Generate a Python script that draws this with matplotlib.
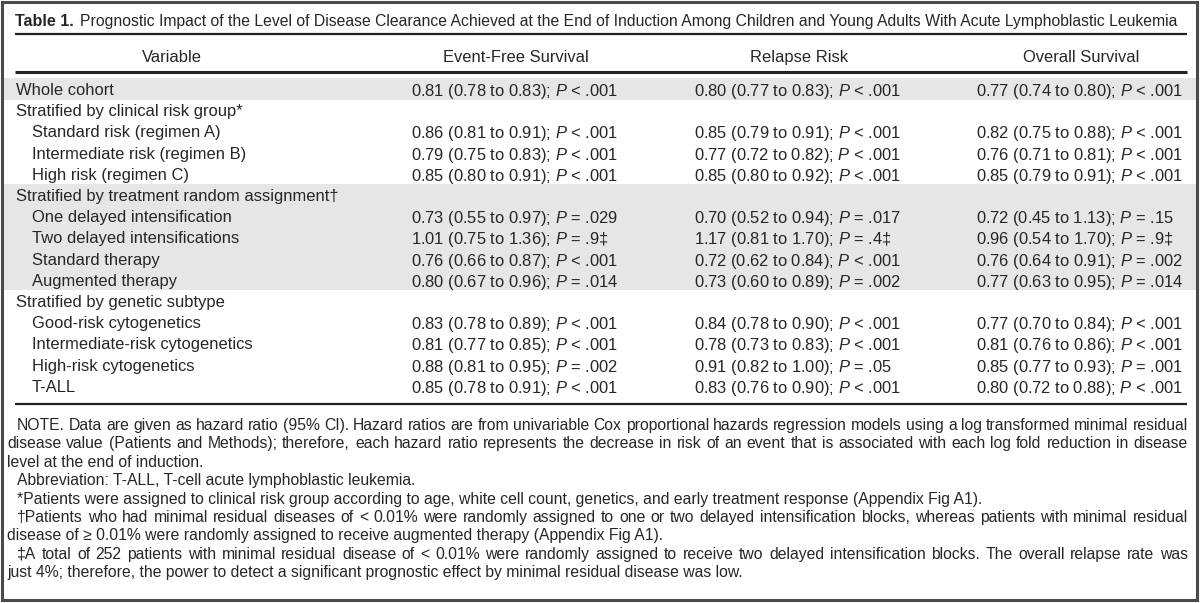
import matplotlib
matplotlib.use("Agg")
import matplotlib.pyplot as plt
from matplotlib.patches import Rectangle

plt.rcParams['font.family'] = ['Liberation Sans', 'DejaVu Sans']
plt.rcParams['mathtext.fontset'] = 'custom'
plt.rcParams['mathtext.rm'] = 'Liberation Sans'
plt.rcParams['mathtext.it'] = 'Liberation Sans:italic'
plt.rcParams['mathtext.bf'] = 'Liberation Sans:bold'

# ---- table content ----
title_bold = "Table 1."
title_rest = ("Prognostic Impact of the Level of Disease Clearance Achieved at the End of "
              "Induction Among Children and Young Adults With Acute Lymphoblastic Leukemia")
columns = ["Variable", "Event-Free Survival", "Relapse Risk", "Overall Survival"]

variables = [
    "Whole cohort",
    "Stratified by clinical risk group*",
    "Standard risk (regimen A)",
    "Intermediate risk (regimen B)",
    "High risk (regimen C)",
    "Stratified by treatment random assignment\u2020",
    "One delayed intensification",
    "Two delayed intensifications",
    "Standard therapy",
    "Augmented therapy",
    "Stratified by genetic subtype",
    "Good-risk cytogenetics",
    "Intermediate-risk cytogenetics",
    "High-risk cytogenetics",
    "T-ALL",
]
indent = [0, 0, 1, 1, 1, 0, 1, 1, 1, 1, 0, 1, 1, 1, 1]
shaded = [1, 0, 0, 0, 0, 1, 1, 1, 1, 1, 0, 0, 0, 0, 0]

# (hazard ratio, CI low, CI high, P)
efs = [
    (0.81, 0.78, 0.83, "< .001"), None,
    (0.86, 0.81, 0.91, "< .001"), (0.79, 0.75, 0.83, "< .001"), (0.85, 0.80, 0.91, "< .001"),
    None,
    (0.73, 0.55, 0.97, "= .029"), (1.01, 0.75, 1.36, "= .9\u2021"),
    (0.76, 0.66, 0.87, "< .001"), (0.80, 0.67, 0.96, "= .014"),
    None,
    (0.83, 0.78, 0.89, "< .001"), (0.81, 0.77, 0.85, "< .001"),
    (0.88, 0.81, 0.95, "= .002"), (0.85, 0.78, 0.91, "< .001"),
]
relapse = [
    (0.80, 0.77, 0.83, "< .001"), None,
    (0.85, 0.79, 0.91, "< .001"), (0.77, 0.72, 0.82, "< .001"), (0.85, 0.80, 0.92, "< .001"),
    None,
    (0.70, 0.52, 0.94, "= .017"), (1.17, 0.81, 1.70, "= .4\u2021"),
    (0.72, 0.62, 0.84, "< .001"), (0.73, 0.60, 0.89, "= .002"),
    None,
    (0.84, 0.78, 0.90, "< .001"), (0.78, 0.73, 0.83, "< .001"),
    (0.91, 0.82, 1.00, "= .05"), (0.83, 0.76, 0.90, "< .001"),
]
overall = [
    (0.77, 0.74, 0.80, "< .001"), None,
    (0.82, 0.75, 0.88, "< .001"), (0.76, 0.71, 0.81, "< .001"), (0.85, 0.79, 0.91, "< .001"),
    None,
    (0.72, 0.45, 1.13, "= .15"), (0.96, 0.54, 1.70, "= .9\u2021"),
    (0.76, 0.64, 0.91, "= .002"), (0.77, 0.63, 0.95, "= .014"),
    None,
    (0.77, 0.70, 0.84, "< .001"), (0.81, 0.76, 0.86, "< .001"),
    (0.85, 0.77, 0.93, "= .001"), (0.80, 0.72, 0.88, "< .001"),
]

# footnote lines, (text, indented first line, justified)
notes = [
    ("NOTE. Data are given as hazard ratio (95% CI). Hazard ratios are from univariable Cox "
     "proportional hazards regression models using a log transformed minimal residual", True, True),
    ("disease value (Patients and Methods); therefore, each hazard ratio represents the decrease "
     "in risk of an event that is associated with each log fold reduction in disease", False, True),
    ("level at the end of induction.", False, False),
    ("Abbreviation: T-ALL, T-cell acute lymphoblastic leukemia.", True, False),
    ("*Patients were assigned to clinical risk group according to age, white cell count, genetics, "
     "and early treatment response (Appendix Fig A1).", True, False),
    ("\u2020Patients who had minimal residual diseases of < 0.01% were randomly assigned to one or two "
     "delayed intensification blocks, whereas patients with minimal residual", True, True),
    ("disease of \u2265 0.01% were randomly assigned to receive augmented therapy (Appendix Fig A1).",
     False, False),
    ("\u2021A total of 252 patients with minimal residual disease of < 0.01% were randomly assigned to "
     "receive two delayed intensification blocks. The overall relapse rate was", True, True),
    ("just 4%; therefore, the power to detect a significant prognostic effect by minimal residual "
     "disease was low.", False, False),
]

# ---- layout ----
W, H = 1200, 603
TXT = '#262626'
SHADE = '#e6e6e6'
FS = 11.9
TFS = 11.3
NFS = 11.3

fig = plt.figure(figsize=(W / 100, H / 100), dpi=100)
ax = fig.add_axes([0, 0, 1, 1])
ax.set_xlim(0, W)
ax.set_ylim(H, 0)
ax.axis('off')
renderer = fig.canvas.get_renderer()

left, right = 15, 1187
col_x = [411, 694, 976]
col_w = 210
title_y = 20
header_y = 56
row0, step = 89, 21.2
notes_y0, nstep = 424, 18.4
VA = 'center_baseline'

# frame
ax.add_patch(Rectangle((1.5, 1.5), W - 4.5, H - 4.5, fill=False, ec='#4a4a4a', lw=2.2))

# title
tb = ax.text(left, title_y, title_bold, fontsize=11.6, fontweight='bold', color=TXT,
             va=VA, ha='left')
tw = tb.get_window_extent(renderer).width
ax.text(left + tw + 6, title_y, title_rest, fontsize=TFS, color=TXT, va=VA, ha='left')
ax.plot([left, right], [34, 34], color='#222222', lw=1.6, solid_capstyle='butt')

# header
ax.text(172, header_y, columns[0], fontsize=FS, color=TXT, va=VA, ha='center')
for cx, name in zip(col_x, columns[1:]):
    ax.text(cx + col_w / 2, header_y, name, fontsize=FS, color=TXT, va=VA, ha='center')
ax.plot([left, right], [72, 72], color='#222222', lw=2.2, solid_capstyle='butt')

# body rows
for i, name in enumerate(variables):
    y = row0 + i * step
    if shaded[i]:
        ax.add_patch(Rectangle((2.5, y - step / 2), W - 6.5, step, color=SHADE, lw=0, zorder=0))
    ax.text(left + 1 + 16 * indent[i], y, name, fontsize=FS, color=TXT, va=VA, ha='left')
    for cx, col in zip(col_x, (efs, relapse, overall)):
        v = col[i]
        if v is None:
            continue
        hr, lo, hi, p = v
        s = f"{hr:.2f} ({lo:.2f} to {hi:.2f}); $P$ {p}"
        ax.text(cx, y, s, fontsize=FS, color=TXT, va=VA, ha='left')

bottom_rule = row0 + (len(variables) - 1) * step + 18
ax.plot([left, right], [bottom_rule, bottom_rule], color='#222222', lw=1.6, solid_capstyle='butt')

# footnotes (wrapped lines are justified to the right edge)
for k, (line, ind, just) in enumerate(notes):
    y = notes_y0 + k * nstep
    x0 = 17 if ind else 7
    words = line.split(' ')
    if just:
        tx = [ax.text(0, y, w, fontsize=NFS, color=TXT, va=VA, ha='left') for w in words]
        widths = [t.get_window_extent(renderer).width for t in tx]
        gap = (1188 - x0 - sum(widths)) / (len(words) - 1)
        if gap > 2.5:
            x = x0
            for t, wd in zip(tx, widths):
                t.set_x(x)
                x += wd + gap
            continue
        for t in tx:
            t.remove()
    ax.text(x0, y, line, fontsize=NFS, color=TXT, va=VA, ha='left')

fig.savefig('out.png', dpi=100, facecolor='white')
